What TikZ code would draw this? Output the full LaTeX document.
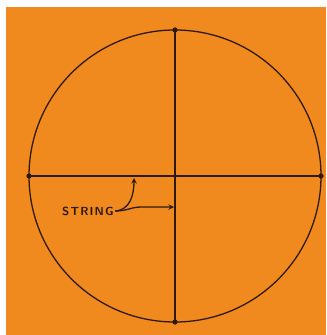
\documentclass[tikz,border=0pt]{standalone}
\usepackage{tikz}
\usetikzlibrary{calc,positioning}

\definecolor{paper}{RGB}{240,138,30}
\definecolor{ink}{RGB}{45,25,15}

\begin{document}
\begin{tikzpicture}[>=stealth, x=0.03cm, y=-0.03cm,
    line/.style={ink, line width=1.1pt},
    pin/.style={fill=ink, circle, inner sep=0pt, minimum size=4.5pt}]
        % --- 1. Parameters ---
        \def\cx{175}
        \def\cy{176}
        \def\rad{146}

        % --- 2. Background ---
        \useasboundingbox (0,0) rectangle (326,335);
        \fill[white] (0,0) rectangle (326,335);
        \fill[paper] (6,7) rectangle (326,335);

        % --- 3. Circle and strings ---
        \coordinate (C) at (\cx,\cy);
        \draw[line] (C) circle (\rad);
        \coordinate (Top) at (\cx,\cy-\rad);
        \coordinate (Bot) at (\cx,\cy+\rad);
        \coordinate (Lft) at (\cx-\rad,\cy);
        \coordinate (Rgt) at (\cx+\rad,\cy);
        \draw[line] (Top) -- (Bot);
        \draw[line] (Lft) -- (Rgt);
        \foreach \p in {Top,Bot,Lft,Rgt}
            \node[pin] at (\p) {};

        % --- 4. Label ---
        \node[ink, font=\sffamily\bfseries, inner sep=1pt] (string) at (88,211) {S\kern1pt T\kern1pt R\kern1pt I\kern1pt N\kern1pt G};
        \coordinate (hTip) at (134,178);
        \coordinate (vTip) at (174,207);
        \draw[line, ->] (string.east) .. controls (130,210) and (134,195) .. (hTip);
        \draw[line, ->] (string.east) .. controls (128,211) and (130,207) .. (142,207) -- (vTip);
    \end{tikzpicture}
\end{document}
